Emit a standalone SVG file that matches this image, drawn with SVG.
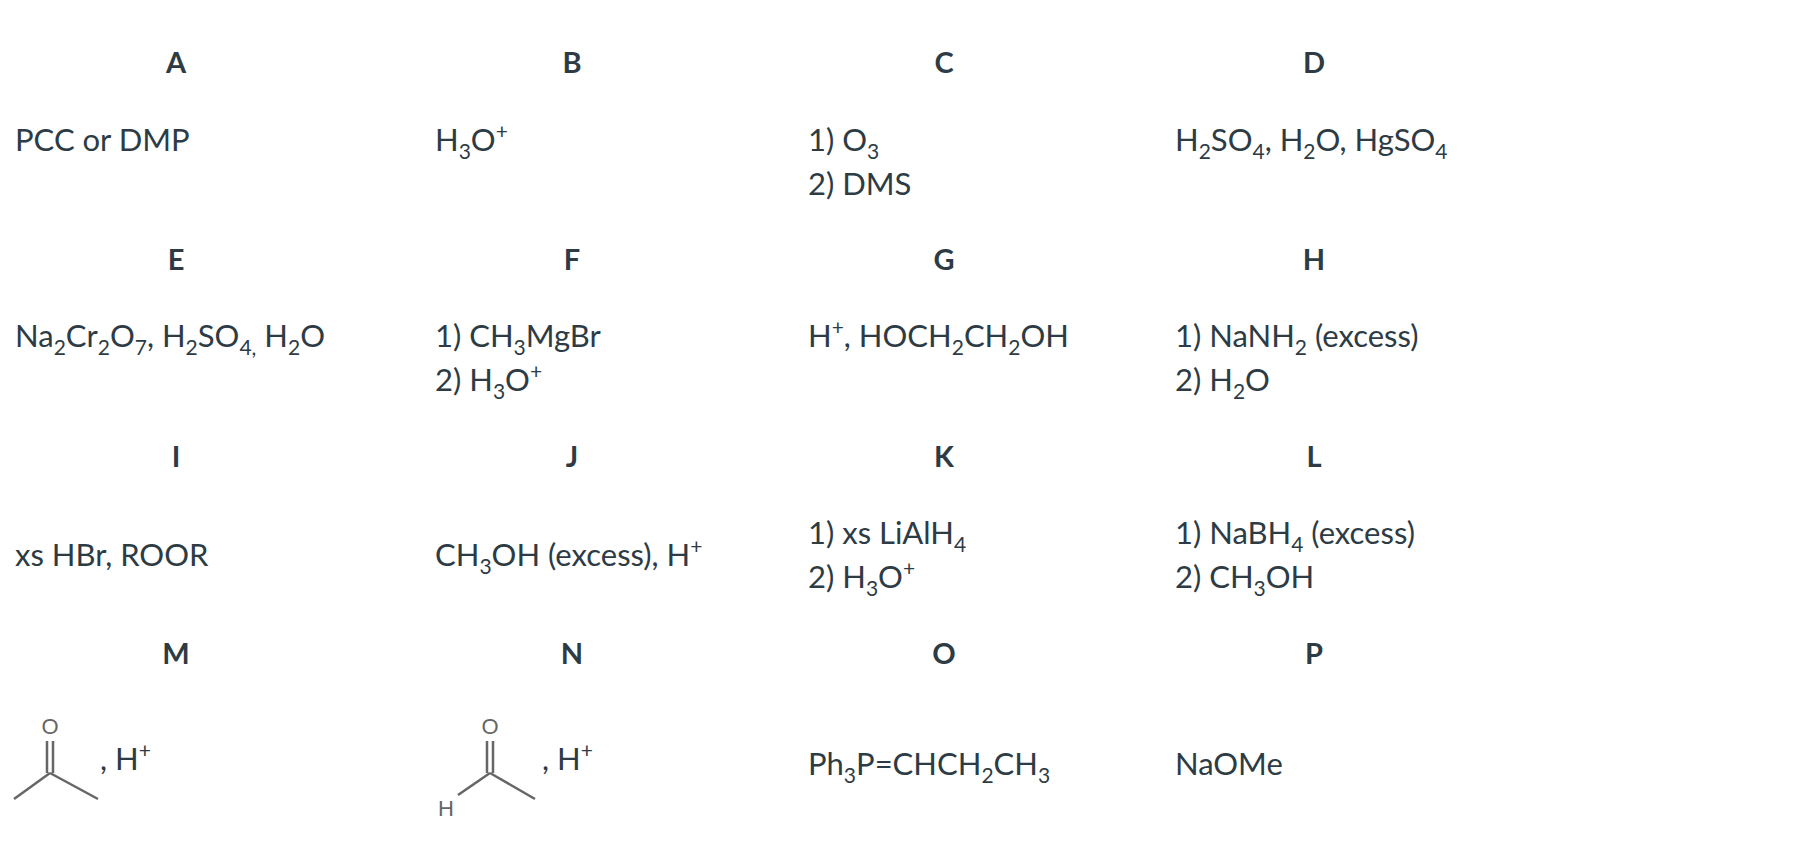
<svg xmlns="http://www.w3.org/2000/svg" width="1806" height="866" viewBox="0 0 1806 866">
<style>
text{font-family:Lato,"Open Sans",sans-serif;fill:#2d3b45;font-size:31px}
.h{font-weight:bold;font-size:29px;text-anchor:middle}
.s{font-size:21px}
.b{stroke:#666;stroke-width:2.5;fill:none}
.m{font-family:"Liberation Sans",Arial,sans-serif;fill:#666;font-size:22px;text-anchor:middle}
</style>
<rect width="1806" height="866" fill="#fff"/>
<g id="A"><text class="h" x="176" y="73">A</text><text x="15" y="151">PCC or DMP</text></g>
<g id="B"><text class="h" x="572" y="73">B</text><text x="435" y="151">H<tspan class="s" dy="8">3</tspan><tspan dy="-8">O</tspan><tspan class="s" dy="-12">+</tspan></text></g>
<g id="C"><text class="h" x="944" y="73">C</text><text x="808" y="151">1) O<tspan class="s" dy="8">3</tspan></text><text x="808" y="195">2) DMS</text></g>
<g id="D"><text class="h" x="1314" y="73">D</text><text x="1175" y="151">H<tspan class="s" dy="8">2</tspan><tspan dy="-8">SO</tspan><tspan class="s" dy="8">4</tspan><tspan dy="-8">, H</tspan><tspan class="s" dy="8">2</tspan><tspan dy="-8">O, HgSO</tspan><tspan class="s" dy="8">4</tspan></text></g>
<g id="E"><text class="h" x="176" y="270">E</text><text x="15" y="347">Na<tspan class="s" dy="8">2</tspan><tspan dy="-8">Cr</tspan><tspan class="s" dy="8">2</tspan><tspan dy="-8">O</tspan><tspan class="s" dy="8">7</tspan><tspan dy="-8">, H</tspan><tspan class="s" dy="8">2</tspan><tspan dy="-8">SO</tspan><tspan class="s" dy="8">4,</tspan><tspan dy="-8"> H</tspan><tspan class="s" dy="8">2</tspan><tspan dy="-8">O</tspan></text></g>
<g id="F"><text class="h" x="572" y="270">F</text><text x="435" y="347">1) CH<tspan class="s" dy="8">3</tspan><tspan dy="-8">MgBr</tspan></text><text x="435" y="391">2) H<tspan class="s" dy="8">3</tspan><tspan dy="-8">O</tspan><tspan class="s" dy="-12">+</tspan></text></g>
<g id="G"><text class="h" x="944" y="270">G</text><text x="808" y="347">H<tspan class="s" dy="-12">+</tspan><tspan dy="12">, HOCH</tspan><tspan class="s" dy="8">2</tspan><tspan dy="-8">CH</tspan><tspan class="s" dy="8">2</tspan><tspan dy="-8">OH</tspan></text></g>
<g id="H"><text class="h" x="1314" y="270">H</text><text x="1175" y="347">1) NaNH<tspan class="s" dy="8">2</tspan><tspan dy="-8"> (excess)</tspan></text><text x="1175" y="391">2) H<tspan class="s" dy="8">2</tspan><tspan dy="-8">O</tspan></text></g>
<g id="I"><text class="h" x="176" y="467">I</text><text x="15" y="566">xs HBr, ROOR</text></g>
<g id="J"><text class="h" x="572" y="467">J</text><text x="435" y="566">CH<tspan class="s" dy="8">3</tspan><tspan dy="-8">OH (excess), H</tspan><tspan class="s" dy="-12">+</tspan></text></g>
<g id="K"><text class="h" x="944" y="467">K</text><text x="808" y="544">1) xs LiAlH<tspan class="s" dy="8">4</tspan></text><text x="808" y="588">2) H<tspan class="s" dy="8">3</tspan><tspan dy="-8">O</tspan><tspan class="s" dy="-12">+</tspan></text></g>
<g id="L"><text class="h" x="1314" y="467">L</text><text x="1175" y="544">1) NaBH<tspan class="s" dy="8">4</tspan><tspan dy="-8"> (excess)</tspan></text><text x="1175" y="588">2) CH<tspan class="s" dy="8">3</tspan><tspan dy="-8">OH</tspan></text></g>
<g id="M"><text class="h" x="176" y="664">M</text>
<text class="m" x="50" y="734">O</text><path class="b" d="M47 741V773M53 741V773M50 773L14 799M50 773L98 799"/>
<text x="100" y="770">, H<tspan class="s" dy="-12">+</tspan></text></g>
<g id="N"><text class="h" x="572" y="664">N</text>
<text class="m" x="490" y="734">O</text><path class="b" d="M487 741V773M493 741V773M490 773L458 795M490 773L535 799"/>
<text class="m" x="446" y="816">H</text>
<text x="542" y="770">, H<tspan class="s" dy="-12">+</tspan></text></g>
<g id="O"><text class="h" x="944" y="664">O</text><text x="808" y="775">Ph<tspan class="s" dy="8">3</tspan><tspan dy="-8">P=CHCH</tspan><tspan class="s" dy="8">2</tspan><tspan dy="-8">CH</tspan><tspan class="s" dy="8">3</tspan></text></g>
<g id="P"><text class="h" x="1314" y="664">P</text><text x="1175" y="775">NaOMe</text></g>
<g id="connectors"/>
</svg>
